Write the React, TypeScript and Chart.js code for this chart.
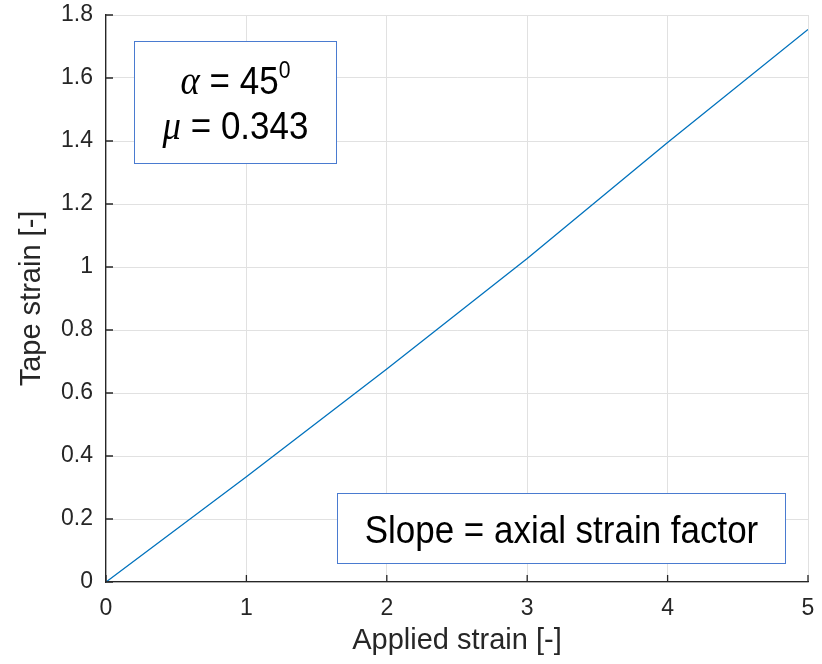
import React, { useEffect, useRef } from 'react';
import { Chart, registerables } from 'chart.js';

Chart.register(...registerables);

// ---- data ----
const appliedStrain = [0, 1, 2, 3, 4, 5];
const tapeStrain = [0, 0.334, 0.676, 1.027, 1.395, 1.754];

const xTicks = [0, 1, 2, 3, 4, 5];
const xTickLabels = ['0', '1', '2', '3', '4', '5'];
const yTicks = [0, 0.2, 0.4, 0.6, 0.8, 1, 1.2, 1.4, 1.6, 1.8];
const yTickLabels = ['0', '0.2', '0.4', '0.6', '0.8', '1', '1.2', '1.4', '1.6', '1.8'];

const xTitle = 'Applied strain [-]';
const yTitle = 'Tape strain [-]';

const angleSymbol = 'α';
const angleValue = ' = 45';
const angleSup = '0';
const frictionSymbol = 'μ';
const frictionValue = ' = 0.343';
const slopeNote = 'Slope = axial strain factor';

// ---- styles ----
const SANS = "'Liberation Sans', Arial, Helvetica, sans-serif";
const SERIF = "'Liberation Serif', 'Times New Roman', serif";
const AXIS_COLOR = '#262626';
const GRID_COLOR = '#e1e1e1';
const LINE_COLOR = '#0072BD';
const BOX_COLOR = '#4a7bd0';

// annotation boxes (in data coordinates)
const paramBox = { x0: 0.2, x1: 1.64, y0: 1.33, y1: 1.718 };
const noteBox = { x0: 1.645, x1: 4.836, y0: 0.059, y1: 0.281 };

type Part = { text: string; font: string; rise?: number };

function drawRun(ctx: CanvasRenderingContext2D, parts: Part[], cx: number, baseline: number, sx = 1) {
  let total = 0;
  const widths = parts.map((p) => {
    ctx.font = p.font;
    const w = ctx.measureText(p.text).width;
    total += w;
    return w;
  });
  ctx.save();
  ctx.translate(cx, baseline);
  ctx.scale(sx, 1);
  let x = -total / 2;
  ctx.textAlign = 'left';
  ctx.textBaseline = 'alphabetic';
  parts.forEach((p, i) => {
    ctx.font = p.font;
    ctx.fillText(p.text, x, -(p.rise || 0));
    x += widths[i];
  });
  ctx.restore();
}

const annotationPlugin = {
  id: 'customAnnotations',
  afterDatasetsDraw(chart: any) {
    const { ctx, scales } = chart;
    const xs = scales.x;
    const ys = scales.y;
    const boxRect = (b: any) => {
      const l = Math.round(xs.getPixelForValue(b.x0)) + 0.5;
      const r = Math.round(xs.getPixelForValue(b.x1)) + 0.5;
      const t = Math.round(ys.getPixelForValue(b.y1)) + 0.5;
      const bt = Math.round(ys.getPixelForValue(b.y0)) + 0.5;
      return { l, r, t, b: bt, w: r - l, h: bt - t };
    };
    ctx.save();
    // parameter box
    const a = boxRect(paramBox);
    ctx.fillStyle = '#ffffff';
    ctx.fillRect(a.l, a.t, a.w, a.h);
    ctx.strokeStyle = BOX_COLOR;
    ctx.lineWidth = 1;
    ctx.strokeRect(a.l, a.t, a.w, a.h);
    ctx.fillStyle = '#000000';
    const acx = (a.l + a.r) / 2;
    drawRun(
      ctx,
      [
        { text: angleSymbol, font: `italic 40px ${SERIF}` },
        { text: angleValue, font: `38px ${SANS}` },
        { text: angleSup, font: `23px ${SANS}`, rise: 16 },
      ],
      acx,
      a.t + a.h * 0.43,
      0.92
    );
    drawRun(
      ctx,
      [
        { text: frictionSymbol, font: `italic 40px ${SERIF}` },
        { text: frictionValue, font: `38px ${SANS}` },
      ],
      acx,
      a.t + a.h * 0.8,
      0.92
    );
    // note box
    const n = boxRect(noteBox);
    ctx.fillStyle = '#ffffff';
    ctx.fillRect(n.l, n.t, n.w, n.h);
    ctx.strokeStyle = BOX_COLOR;
    ctx.strokeRect(n.l, n.t, n.w, n.h);
    ctx.fillStyle = '#000000';
    drawRun(ctx, [{ text: slopeNote, font: `38px ${SANS}` }], (n.l + n.r) / 2, n.t + n.h * 0.7, 0.92);
    ctx.restore();
  },
  afterDraw(chart: any) {
    const { ctx, scales } = chart;
    const xs = scales.x;
    const ys = scales.y;
    ctx.save();
    ctx.strokeStyle = AXIS_COLOR;
    ctx.lineWidth = 1.3;
    const tl = 7;
    ctx.beginPath();
    yTicks.forEach((v) => {
      const py = ys.getPixelForValue(v);
      ctx.moveTo(xs.left, py);
      ctx.lineTo(xs.left + tl, py);
    });
    xTicks.forEach((v) => {
      const px = xs.getPixelForValue(v);
      ctx.moveTo(px, ys.bottom);
      ctx.lineTo(px, ys.bottom - tl);
    });
    ctx.stroke();
    ctx.restore();
  },
};

export default function App() {
  const canvasRef = useRef<HTMLCanvasElement | null>(null);

  useEffect(() => {
    const canvas = canvasRef.current;
    if (!canvas) return;
    const chart = new Chart(canvas, {
      type: 'scatter',
      data: {
        datasets: [
          {
            data: appliedStrain.map((x, i) => ({ x, y: tapeStrain[i] })),
            showLine: true,
            borderColor: LINE_COLOR,
            borderWidth: 1.3,
            pointRadius: 0,
            pointHoverRadius: 0,
            fill: false,
            tension: 0,
          },
        ],
      },
      options: {
        responsive: false,
        animation: false,
        devicePixelRatio: 1,
        layout: { padding: { top: 15, right: 14, left: 0, bottom: 0 } },
        plugins: {
          legend: { display: false },
          tooltip: { enabled: false },
          title: { display: false },
        },
        scales: {
          x: {
            type: 'linear',
            min: 0,
            max: 5,
            afterBuildTicks: (s: any) => {
              s.ticks = xTicks.map((v) => ({ value: v }));
            },
            afterFit: (s: any) => {
              s.height = 82;
              s.paddingLeft = 0;
              s.paddingRight = 0;
            },
            ticks: {
              callback: (v: any) => {
                const i = xTicks.indexOf(Number(v));
                return i >= 0 ? xTickLabels[i] : '';
              },
              font: { family: SANS, size: 23 },
              color: AXIS_COLOR,
              padding: 13,
              maxRotation: 0,
              autoSkip: false,
            },
            grid: { color: GRID_COLOR, lineWidth: 1, drawTicks: false },
            border: { display: true, color: AXIS_COLOR, width: 1.3 },
            title: {
              display: true,
              text: xTitle,
              font: { family: SANS, size: 29 },
              color: AXIS_COLOR,
              padding: { top: 0, bottom: 6 },
            },
          },
          y: {
            type: 'linear',
            min: 0,
            max: 1.8,
            afterBuildTicks: (s: any) => {
              s.ticks = yTicks.map((v) => ({ value: v }));
            },
            afterFit: (s: any) => {
              s.width = 106;
              s.paddingTop = 0;
              s.paddingBottom = 0;
            },
            ticks: {
              callback: (v: any) => {
                const i = yTicks.findIndex((t) => Math.abs(t - Number(v)) < 1e-9);
                return i >= 0 ? yTickLabels[i] : '';
              },
              font: { family: SANS, size: 23 },
              color: AXIS_COLOR,
              padding: 13,
              autoSkip: false,
            },
            grid: { color: GRID_COLOR, lineWidth: 1, drawTicks: false },
            border: { display: true, color: AXIS_COLOR, width: 1.3 },
            title: {
              display: true,
              text: yTitle,
              font: { family: SANS, size: 29 },
              color: AXIS_COLOR,
              padding: { top: 15, bottom: 0 },
            },
          },
        },
      },
      plugins: [annotationPlugin],
    });
    return () => chart.destroy();
  }, []);

  return (
    <div style={{ position: 'absolute', left: 0, top: 0, width: 822, height: 664, background: '#ffffff' }}>
      <canvas ref={canvasRef} width={822} height={664} style={{ display: 'block' }} />
    </div>
  );
}
